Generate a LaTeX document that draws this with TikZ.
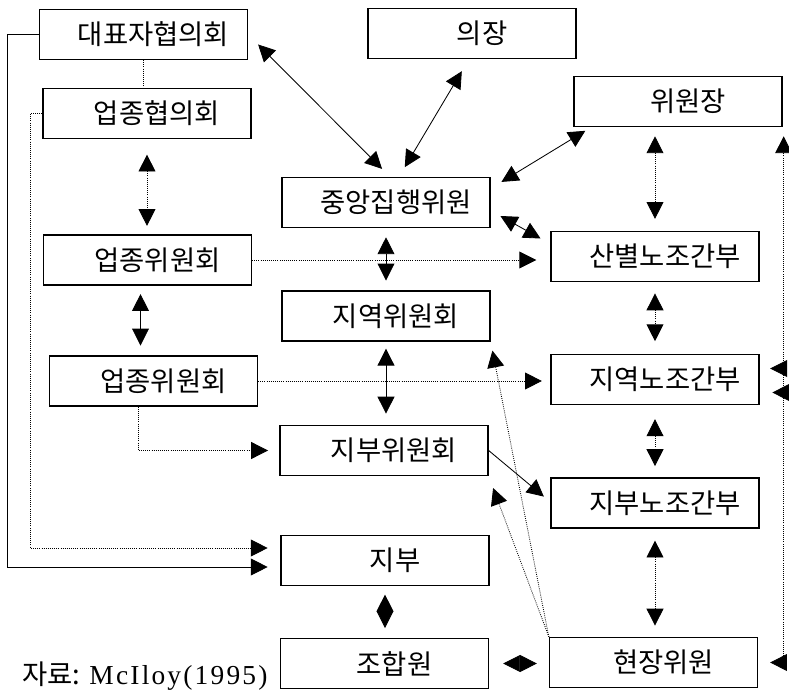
\documentclass[tikz,border=0pt]{standalone}
\usepackage{fontspec}
\setmainfont{Liberation Serif}
\newfontfamily\kr{Noto Sans CJK KR}
\newfontfamily\srcfont[LetterSpace=8]{Liberation Serif}
\usepackage{tikz}
\usetikzlibrary{arrows.meta,calc}

\begin{document}
\begin{tikzpicture}[
		x=0.025cm, y=-0.025cm,
		>={Triangle[length=12pt,width=12pt]},
		box/.style={
			draw,
			line width=0.9pt,
			minimum width=5.2cm,
			minimum height=1.25cm,
			inner sep=2pt,
			execute at begin node={\hspace*{0.5cm}},
			font=\kr\fontsize{19.5}{22}\selectfont
		},
		solidline/.style={
			line width=0.6pt
		},
		dotline/.style={
			line width=0.6pt,
			dash pattern=on 0.6pt off 0.9pt
		}
		]
		
		\useasboundingbox (0,0) rectangle (789,690);
		
		% left column
		\node[box] at (143.5, 34.5)
		(dp) {대표자협의회};
		\node[box] at (147, 113.5)
		(uh) {업종협의회};
		\node[box] at (147.5, 260)
		(yw1) {업종위원회};
		\node[box] at (153.5, 381)
		(yw2) {업종위원회};
		
		% middle column
		\node[box] at (472, 33.5)
		(uj) {의장};
		\node[box] at (386, 202.5)
		(jj) {중앙집행위원};
		\node[box] at (386, 316)
		(jw) {지역위원회};
		\node[box] at (384, 450.5)
		(bw) {지부위원회};
		\node[box] at (385, 560.5)
		(jb) {지부};
		\node[box] at (384.5, 663.5)
		(jh) {조합원};
		
		% right column
		\node[box] at (678, 101.5)
		(wj) {위원장};
		\node[box] at (655, 256.5)
		(sb) {산별노조간부};
		\node[box] at (655, 379.5)
		(jn) {지역노조간부};
		\node[box] at (655, 503)
		(bn) {지부노조간부};
		\node[box] at (653.5, 662.5)
		(hw) {현장위원};
		
		\node[anchor=base west, inner sep=0pt] at (22, 684)
		(src) {\fontsize{19.5}{22}\selectfont{\kr 자료:} \srcfont McIloy(1995)};
		
		% left side
		\draw[solidline, ->, shorten >=9pt] (dp.west) -- ++(-31,0) |- ($(jb.west)+(0,6.5)$);
		\draw[dotline] (dp.south) -- (dp.south |- uh.north);
		\draw[dotline, ->, shorten >=9pt] (uh.west) -- ++(-12,0) |- ($(jb.west)+(0,-12.5)$);
		\draw[dotline, <->, shorten <=11pt, shorten >=6pt] (uh.south) -- (uh.south |- yw1.north);
		\draw[solidline, <->, shorten <=6pt, shorten >=7pt] ($(yw1.south)+(-7,0)$) -- ($(yw1.south |- yw2.north)+(-7,0)$);
		\draw[dotline, ->, shorten >=10pt] (yw1.east) -- (yw1.east -| sb.west);
		\draw[dotline, ->, shorten >=6pt] (yw2.east) -- (yw2.east -| jn.west);
		\draw[dotline, ->, shorten >=8pt] ($(yw2.south)+(-15,0)$) |- (bw.west);
		
		% middle
		\draw[solidline, <->, shorten <=10pt, shorten >=8pt] (dp.east) -- ($(jj.north)+(4,0)$);
		\draw[solidline, <->, shorten <=10pt, shorten >=8pt] ($(uj.south)+(-3,0)$) -- ($(jj.north)+(13,0)$);
		\draw[solidline, <->, shorten <=5pt, shorten >=9pt] ($(wj.south west)+(18,0)$) -- ($(jj.east)+(0,-14)$);
		\draw[solidline, <->, shorten <=8pt, shorten >=8pt] ($(jj.east)+(0,8)$) -- ($(sb.west)+(0,-12.5)$);
		\draw[solidline, <->, shorten <=6.5pt, shorten >=7pt] (jj.south) -- (jj.south |- jw.north);
		\draw[solidline, <->, shorten <=5pt, shorten >=8pt] (jw.south) -- (jw.south |- bw.north);
		\draw[solidline, <->, shorten <=6pt, shorten >=7pt] (jb.south) -- (jb.south |- jh.north);
		\draw[solidline, ->, shorten >=6pt] (bw.east) -- ($(bn.west)+(0,-1)$);
		\draw[solidline, <->, shorten <=10pt, shorten >=8.5pt] (jh.east) -- (jh.east -| hw.west);
		\draw[dotline, ->, shorten >=6.5pt] (hw.north west) -- (jw.south east);
		\draw[dotline, ->, shorten >=9pt] (hw.north west) -- (bw.south east);
		
		% right column
		\draw[dotline, <->, shorten <=6.5pt, shorten >=8.5pt] (sb.north |- wj.south) -- (sb.north);
		\draw[dotline, <->, shorten <=8pt, shorten >=9pt] (sb.south) -- (jn.north);
		\draw[dotline, <->, shorten <=10pt, shorten >=8pt] (jn.south) -- (bn.north);
		\draw[dotline, <->, shorten <=8.5pt, shorten >=8pt] (bn.south) -- (bn.south |- hw.north);
		
		% right side
		\coordinate (rtop) at ($(wj.south east)+(1,0)$);
		\coordinate (rbot) at (hw.east -| rtop);
		\draw[dotline, ->, shorten >=6.5pt] (rbot) -- (rtop);
		\draw[dotline, ->, shorten >=8.5pt] (rbot) -- (hw.east);
		\draw[dotline, ->, shorten >=7.5pt] ($(jn.east -| rtop)+(0,-11)$) -- ($(jn.east)+(0,-11)$);
		\draw[dotline, ->, shorten >=9pt] ($(jn.east -| rtop)+(0,13)$) -- ($(jn.east)+(0,13)$);
		
\end{tikzpicture}
\end{document}
